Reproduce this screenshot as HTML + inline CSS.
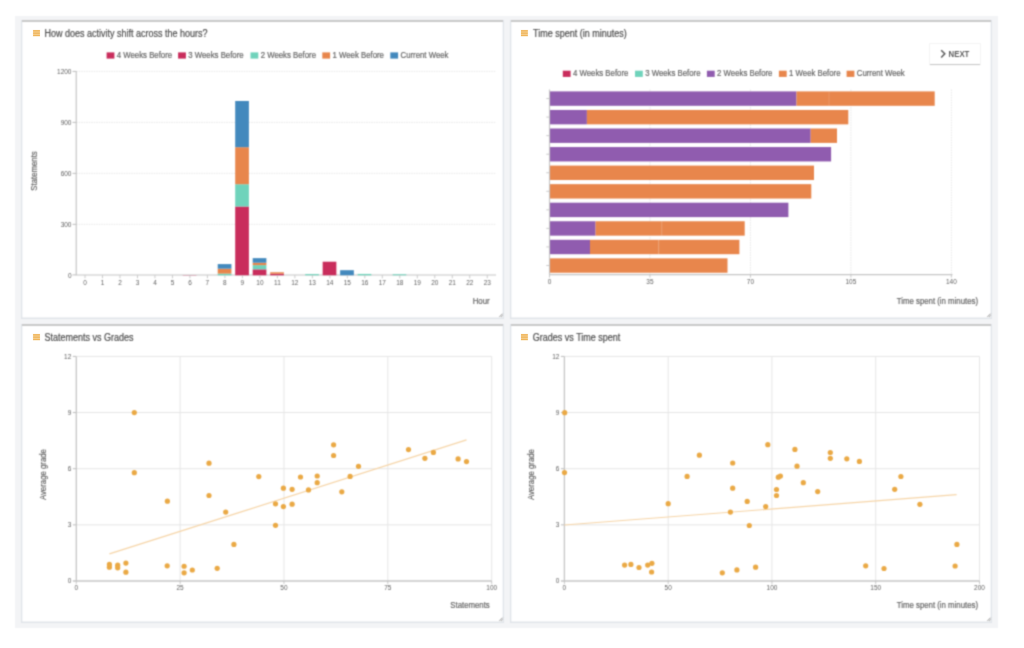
<!DOCTYPE html><html><head><meta charset="utf-8"><style>
html,body{margin:0;padding:0;background:#fff;width:1024px;height:648px;overflow:hidden;}
svg{position:absolute;left:0;top:0;}
text{font-family:"Liberation Sans",sans-serif;stroke-width:0.2px;paint-order:stroke;}
</style></head><body>
<svg width="1024" height="648" viewBox="0 0 1024 648">
<defs><filter id="bl" x="-1%" y="-1%" width="102%" height="102%" color-interpolation-filters="sRGB"><feConvolveMatrix order="3" kernelMatrix="1 3 1 3 9 3 1 3 1" divisor="25" edgeMode="duplicate"/></filter>
<filter id="sh" x="-20%" y="-30%" width="140%" height="170%" color-interpolation-filters="sRGB"><feGaussianBlur in="SourceAlpha" stdDeviation="0.7"/><feOffset dy="1"/><feComponentTransfer><feFuncA type="linear" slope="0.32"/></feComponentTransfer><feMerge><feMergeNode/><feMergeNode in="SourceGraphic"/></feMerge></filter></defs>
<g filter="url(#bl)">
<rect x="0.00" y="0.00" width="1024.00" height="648.00" fill="#fff" />
<rect x="15.00" y="16.00" width="983.00" height="612.00" fill="#f3f4f6" />
<rect x="21.00" y="20.00" width="483.00" height="299.00" fill="#e0e4e9" />
<rect x="22.30" y="22.00" width="480.40" height="295.50" fill="#fff" />
<rect x="22.00" y="20.00" width="481.00" height="2.00" fill="#c9c9c9" />
<rect x="510.00" y="20.00" width="482.00" height="299.00" fill="#e0e4e9" />
<rect x="511.30" y="22.00" width="479.40" height="295.50" fill="#fff" />
<rect x="511.00" y="20.00" width="480.00" height="2.00" fill="#c9c9c9" />
<rect x="21.00" y="324.00" width="483.00" height="299.00" fill="#e0e4e9" />
<rect x="22.30" y="326.00" width="480.40" height="295.50" fill="#fff" />
<rect x="22.00" y="324.00" width="481.00" height="2.00" fill="#c9c9c9" />
<rect x="510.00" y="324.00" width="482.00" height="299.00" fill="#e0e4e9" />
<rect x="511.30" y="326.00" width="479.40" height="295.50" fill="#fff" />
<rect x="511.00" y="324.00" width="480.00" height="2.00" fill="#c9c9c9" />
<rect x="929.30" y="43.30" width="51.40" height="21.90" fill="rgba(0,0,0,0.07)" />
<rect x="930.00" y="44.60" width="50.00" height="20.20" fill="rgba(0,0,0,0.20)" />
<rect x="930.00" y="44.00" width="50.00" height="20.00" fill="#fff" />
<text x="44.50" y="36.60" font-size="10.44" textLength="163.07" lengthAdjust="spacingAndGlyphs" text-anchor="start" fill="#4d4d4d" stroke="#4d4d4d" >How does activity shift across the hours?</text>
<text x="533.00" y="36.60" font-size="10.44" textLength="93.70" lengthAdjust="spacingAndGlyphs" text-anchor="start" fill="#4d4d4d" stroke="#4d4d4d" >Time spent (in minutes)</text>
<text x="44.50" y="340.60" font-size="10.44" textLength="89.04" lengthAdjust="spacingAndGlyphs" text-anchor="start" fill="#4d4d4d" stroke="#4d4d4d" >Statements vs Grades</text>
<text x="532.80" y="340.60" font-size="10.44" textLength="87.53" lengthAdjust="spacingAndGlyphs" text-anchor="start" fill="#4d4d4d" stroke="#4d4d4d" >Grades vs Time spent</text>
<path d="M941.2 50.2 L944.8 53.8 L941.2 57.4" fill="none" stroke="#555" stroke-width="1.4"/>
<text x="948.60" y="56.60" font-size="8.58" textLength="20.80" lengthAdjust="spacingAndGlyphs" text-anchor="start" fill="#5c5c5c" stroke="#5c5c5c" font-weight="bold" style="stroke-width:0">NEXT</text>
<rect x="106.60" y="52.40" width="7.80" height="6.20" fill="#c92d5c" />
<text x="116.80" y="57.90" font-size="8.58" textLength="55.35" lengthAdjust="spacingAndGlyphs" text-anchor="start" fill="#666" stroke="#666" >4 Weeks Before</text>
<rect x="178.10" y="52.40" width="7.80" height="6.20" fill="#c92d5c" />
<text x="188.30" y="57.90" font-size="8.58" textLength="55.35" lengthAdjust="spacingAndGlyphs" text-anchor="start" fill="#666" stroke="#666" >3 Weeks Before</text>
<rect x="250.50" y="52.40" width="7.80" height="6.20" fill="#6fd3bb" />
<text x="260.70" y="57.90" font-size="8.58" textLength="55.35" lengthAdjust="spacingAndGlyphs" text-anchor="start" fill="#666" stroke="#666" >2 Weeks Before</text>
<rect x="322.30" y="52.40" width="7.80" height="6.20" fill="#e8864c" />
<text x="332.50" y="57.90" font-size="8.58" textLength="51.45" lengthAdjust="spacingAndGlyphs" text-anchor="start" fill="#666" stroke="#666" >1 Week Before</text>
<rect x="390.30" y="52.40" width="7.80" height="6.20" fill="#4389bd" />
<text x="400.50" y="57.90" font-size="8.58" textLength="47.97" lengthAdjust="spacingAndGlyphs" text-anchor="start" fill="#666" stroke="#666" >Current Week</text>
<line x1="76.25" y1="224.33" x2="496.00" y2="224.33" stroke="#e2e2e2" stroke-width="0.8" stroke-dasharray="1.5,1"/>
<line x1="72.50" y1="224.33" x2="76.25" y2="224.33" stroke="#bdbdbd" stroke-width="1" />
<text x="71.50" y="226.63" font-size="7.15" textLength="10.85" lengthAdjust="spacingAndGlyphs" text-anchor="end" fill="#626262" stroke="#626262" style="stroke-width:0">300</text>
<line x1="76.25" y1="173.36" x2="496.00" y2="173.36" stroke="#e2e2e2" stroke-width="0.8" stroke-dasharray="1.5,1"/>
<line x1="72.50" y1="173.36" x2="76.25" y2="173.36" stroke="#bdbdbd" stroke-width="1" />
<text x="71.50" y="175.66" font-size="7.15" textLength="10.85" lengthAdjust="spacingAndGlyphs" text-anchor="end" fill="#626262" stroke="#626262" style="stroke-width:0">600</text>
<line x1="76.25" y1="122.39" x2="496.00" y2="122.39" stroke="#e2e2e2" stroke-width="0.8" stroke-dasharray="1.5,1"/>
<line x1="72.50" y1="122.39" x2="76.25" y2="122.39" stroke="#bdbdbd" stroke-width="1" />
<text x="71.50" y="124.69" font-size="7.15" textLength="10.85" lengthAdjust="spacingAndGlyphs" text-anchor="end" fill="#626262" stroke="#626262" style="stroke-width:0">900</text>
<line x1="76.25" y1="71.42" x2="496.00" y2="71.42" stroke="#e2e2e2" stroke-width="0.8" stroke-dasharray="1.5,1"/>
<line x1="72.50" y1="71.42" x2="76.25" y2="71.42" stroke="#bdbdbd" stroke-width="1" />
<text x="71.50" y="73.72" font-size="7.15" textLength="14.46" lengthAdjust="spacingAndGlyphs" text-anchor="end" fill="#626262" stroke="#626262" style="stroke-width:0">1200</text>
<text x="71.50" y="277.60" font-size="7.15" textLength="3.62" lengthAdjust="spacingAndGlyphs" text-anchor="end" fill="#626262" stroke="#626262" style="stroke-width:0">0</text>
<line x1="72.50" y1="274.90" x2="76.25" y2="274.90" stroke="#bdbdbd" stroke-width="1" />
<line x1="76.25" y1="71.00" x2="76.25" y2="275.30" stroke="#c6c6c6" stroke-width="1.2" />
<line x1="76.25" y1="275.00" x2="496.00" y2="275.00" stroke="#c6c6c6" stroke-width="1.2" />
<rect x="182.74" y="275.05" width="13.70" height="0.25" fill="#c92d5c" />
<rect x="217.72" y="273.60" width="13.70" height="1.70" fill="#6fd3bb" />
<rect x="217.72" y="268.67" width="13.70" height="4.93" fill="#e8864c" />
<rect x="217.72" y="264.09" width="13.70" height="4.59" fill="#4389bd" />
<rect x="235.20" y="206.49" width="13.70" height="68.81" fill="#c92d5c" />
<rect x="235.20" y="184.23" width="13.70" height="22.26" fill="#6fd3bb" />
<rect x="235.20" y="147.20" width="13.70" height="37.04" fill="#e8864c" />
<rect x="235.20" y="100.98" width="13.70" height="46.21" fill="#4389bd" />
<rect x="252.69" y="269.35" width="13.70" height="5.95" fill="#c92d5c" />
<rect x="252.69" y="265.11" width="13.70" height="4.25" fill="#6fd3bb" />
<rect x="252.69" y="262.73" width="13.70" height="2.38" fill="#e8864c" />
<rect x="252.69" y="258.14" width="13.70" height="4.59" fill="#4389bd" />
<rect x="270.19" y="273.77" width="13.70" height="1.53" fill="#c92d5c" />
<rect x="270.19" y="272.24" width="13.70" height="1.53" fill="#e8864c" />
<rect x="305.17" y="274.11" width="13.70" height="1.19" fill="#6fd3bb" />
<rect x="322.66" y="261.71" width="13.70" height="13.59" fill="#c92d5c" />
<rect x="340.14" y="270.20" width="13.70" height="5.10" fill="#4389bd" />
<rect x="357.63" y="273.94" width="13.70" height="1.36" fill="#6fd3bb" />
<rect x="392.62" y="274.28" width="13.70" height="1.02" fill="#6fd3bb" />
<line x1="85.00" y1="275.30" x2="85.00" y2="278.30" stroke="#bdbdbd" stroke-width="0.8" />
<text x="85.00" y="284.90" font-size="7.15" textLength="3.62" lengthAdjust="spacingAndGlyphs" text-anchor="middle" fill="#626262" stroke="#626262" style="stroke-width:0">0</text>
<line x1="102.48" y1="275.30" x2="102.48" y2="278.30" stroke="#bdbdbd" stroke-width="0.8" />
<text x="102.48" y="284.90" font-size="7.15" textLength="3.62" lengthAdjust="spacingAndGlyphs" text-anchor="middle" fill="#626262" stroke="#626262" style="stroke-width:0">1</text>
<line x1="119.97" y1="275.30" x2="119.97" y2="278.30" stroke="#bdbdbd" stroke-width="0.8" />
<text x="119.97" y="284.90" font-size="7.15" textLength="3.62" lengthAdjust="spacingAndGlyphs" text-anchor="middle" fill="#626262" stroke="#626262" style="stroke-width:0">2</text>
<line x1="137.47" y1="275.30" x2="137.47" y2="278.30" stroke="#bdbdbd" stroke-width="0.8" />
<text x="137.47" y="284.90" font-size="7.15" textLength="3.62" lengthAdjust="spacingAndGlyphs" text-anchor="middle" fill="#626262" stroke="#626262" style="stroke-width:0">3</text>
<line x1="154.95" y1="275.30" x2="154.95" y2="278.30" stroke="#bdbdbd" stroke-width="0.8" />
<text x="154.95" y="284.90" font-size="7.15" textLength="3.62" lengthAdjust="spacingAndGlyphs" text-anchor="middle" fill="#626262" stroke="#626262" style="stroke-width:0">4</text>
<line x1="172.44" y1="275.30" x2="172.44" y2="278.30" stroke="#bdbdbd" stroke-width="0.8" />
<text x="172.44" y="284.90" font-size="7.15" textLength="3.62" lengthAdjust="spacingAndGlyphs" text-anchor="middle" fill="#626262" stroke="#626262" style="stroke-width:0">5</text>
<line x1="189.94" y1="275.30" x2="189.94" y2="278.30" stroke="#bdbdbd" stroke-width="0.8" />
<text x="189.94" y="284.90" font-size="7.15" textLength="3.62" lengthAdjust="spacingAndGlyphs" text-anchor="middle" fill="#626262" stroke="#626262" style="stroke-width:0">6</text>
<line x1="207.42" y1="275.30" x2="207.42" y2="278.30" stroke="#bdbdbd" stroke-width="0.8" />
<text x="207.42" y="284.90" font-size="7.15" textLength="3.62" lengthAdjust="spacingAndGlyphs" text-anchor="middle" fill="#626262" stroke="#626262" style="stroke-width:0">7</text>
<line x1="224.91" y1="275.30" x2="224.91" y2="278.30" stroke="#bdbdbd" stroke-width="0.8" />
<text x="224.91" y="284.90" font-size="7.15" textLength="3.62" lengthAdjust="spacingAndGlyphs" text-anchor="middle" fill="#626262" stroke="#626262" style="stroke-width:0">8</text>
<line x1="242.40" y1="275.30" x2="242.40" y2="278.30" stroke="#bdbdbd" stroke-width="0.8" />
<text x="242.40" y="284.90" font-size="7.15" textLength="3.62" lengthAdjust="spacingAndGlyphs" text-anchor="middle" fill="#626262" stroke="#626262" style="stroke-width:0">9</text>
<line x1="259.89" y1="275.30" x2="259.89" y2="278.30" stroke="#bdbdbd" stroke-width="0.8" />
<text x="259.89" y="284.90" font-size="7.15" textLength="7.23" lengthAdjust="spacingAndGlyphs" text-anchor="middle" fill="#626262" stroke="#626262" style="stroke-width:0">10</text>
<line x1="277.38" y1="275.30" x2="277.38" y2="278.30" stroke="#bdbdbd" stroke-width="0.8" />
<text x="277.38" y="284.90" font-size="7.15" textLength="6.75" lengthAdjust="spacingAndGlyphs" text-anchor="middle" fill="#626262" stroke="#626262" style="stroke-width:0">11</text>
<line x1="294.88" y1="275.30" x2="294.88" y2="278.30" stroke="#bdbdbd" stroke-width="0.8" />
<text x="294.88" y="284.90" font-size="7.15" textLength="7.23" lengthAdjust="spacingAndGlyphs" text-anchor="middle" fill="#626262" stroke="#626262" style="stroke-width:0">12</text>
<line x1="312.37" y1="275.30" x2="312.37" y2="278.30" stroke="#bdbdbd" stroke-width="0.8" />
<text x="312.37" y="284.90" font-size="7.15" textLength="7.23" lengthAdjust="spacingAndGlyphs" text-anchor="middle" fill="#626262" stroke="#626262" style="stroke-width:0">13</text>
<line x1="329.86" y1="275.30" x2="329.86" y2="278.30" stroke="#bdbdbd" stroke-width="0.8" />
<text x="329.86" y="284.90" font-size="7.15" textLength="7.23" lengthAdjust="spacingAndGlyphs" text-anchor="middle" fill="#626262" stroke="#626262" style="stroke-width:0">14</text>
<line x1="347.34" y1="275.30" x2="347.34" y2="278.30" stroke="#bdbdbd" stroke-width="0.8" />
<text x="347.34" y="284.90" font-size="7.15" textLength="7.23" lengthAdjust="spacingAndGlyphs" text-anchor="middle" fill="#626262" stroke="#626262" style="stroke-width:0">15</text>
<line x1="364.83" y1="275.30" x2="364.83" y2="278.30" stroke="#bdbdbd" stroke-width="0.8" />
<text x="364.83" y="284.90" font-size="7.15" textLength="7.23" lengthAdjust="spacingAndGlyphs" text-anchor="middle" fill="#626262" stroke="#626262" style="stroke-width:0">16</text>
<line x1="382.32" y1="275.30" x2="382.32" y2="278.30" stroke="#bdbdbd" stroke-width="0.8" />
<text x="382.32" y="284.90" font-size="7.15" textLength="7.23" lengthAdjust="spacingAndGlyphs" text-anchor="middle" fill="#626262" stroke="#626262" style="stroke-width:0">17</text>
<line x1="399.81" y1="275.30" x2="399.81" y2="278.30" stroke="#bdbdbd" stroke-width="0.8" />
<text x="399.81" y="284.90" font-size="7.15" textLength="7.23" lengthAdjust="spacingAndGlyphs" text-anchor="middle" fill="#626262" stroke="#626262" style="stroke-width:0">18</text>
<line x1="417.30" y1="275.30" x2="417.30" y2="278.30" stroke="#bdbdbd" stroke-width="0.8" />
<text x="417.30" y="284.90" font-size="7.15" textLength="7.23" lengthAdjust="spacingAndGlyphs" text-anchor="middle" fill="#626262" stroke="#626262" style="stroke-width:0">19</text>
<line x1="434.79" y1="275.30" x2="434.79" y2="278.30" stroke="#bdbdbd" stroke-width="0.8" />
<text x="434.79" y="284.90" font-size="7.15" textLength="7.23" lengthAdjust="spacingAndGlyphs" text-anchor="middle" fill="#626262" stroke="#626262" style="stroke-width:0">20</text>
<line x1="452.28" y1="275.30" x2="452.28" y2="278.30" stroke="#bdbdbd" stroke-width="0.8" />
<text x="452.28" y="284.90" font-size="7.15" textLength="7.23" lengthAdjust="spacingAndGlyphs" text-anchor="middle" fill="#626262" stroke="#626262" style="stroke-width:0">21</text>
<line x1="469.77" y1="275.30" x2="469.77" y2="278.30" stroke="#bdbdbd" stroke-width="0.8" />
<text x="469.77" y="284.90" font-size="7.15" textLength="7.23" lengthAdjust="spacingAndGlyphs" text-anchor="middle" fill="#626262" stroke="#626262" style="stroke-width:0">22</text>
<line x1="487.26" y1="275.30" x2="487.26" y2="278.30" stroke="#bdbdbd" stroke-width="0.8" />
<text x="487.26" y="284.90" font-size="7.15" textLength="7.23" lengthAdjust="spacingAndGlyphs" text-anchor="middle" fill="#626262" stroke="#626262" style="stroke-width:0">23</text>
<text x="481.20" y="303.80" font-size="8.58" textLength="16.91" lengthAdjust="spacingAndGlyphs" text-anchor="middle" fill="#666" stroke="#666" >Hour</text>
<text x="0.00" y="0.00" font-size="8.58" textLength="39.45" lengthAdjust="spacingAndGlyphs" text-anchor="middle" fill="#666" stroke="#666" transform="translate(37.1 171) rotate(-90)">Statements</text>
<rect x="562.80" y="70.70" width="7.80" height="6.20" fill="#c92d5c" />
<text x="573.00" y="76.20" font-size="8.58" textLength="55.35" lengthAdjust="spacingAndGlyphs" text-anchor="start" fill="#666" stroke="#666" >4 Weeks Before</text>
<rect x="635.00" y="70.70" width="7.80" height="6.20" fill="#6fd3bb" />
<text x="645.20" y="76.20" font-size="8.58" textLength="55.35" lengthAdjust="spacingAndGlyphs" text-anchor="start" fill="#666" stroke="#666" >3 Weeks Before</text>
<rect x="706.90" y="70.70" width="7.80" height="6.20" fill="#905caf" />
<text x="717.10" y="76.20" font-size="8.58" textLength="55.35" lengthAdjust="spacingAndGlyphs" text-anchor="start" fill="#666" stroke="#666" >2 Weeks Before</text>
<rect x="778.90" y="70.70" width="7.80" height="6.20" fill="#e8864c" />
<text x="789.10" y="76.20" font-size="8.58" textLength="51.45" lengthAdjust="spacingAndGlyphs" text-anchor="start" fill="#666" stroke="#666" >1 Week Before</text>
<rect x="846.60" y="70.70" width="7.80" height="6.20" fill="#e8864c" />
<text x="856.80" y="76.20" font-size="8.58" textLength="47.97" lengthAdjust="spacingAndGlyphs" text-anchor="start" fill="#666" stroke="#666" >Current Week</text>
<line x1="649.97" y1="89.50" x2="649.97" y2="274.60" stroke="#e2e2e2" stroke-width="0.8" stroke-dasharray="1.5,1"/>
<line x1="750.44" y1="89.50" x2="750.44" y2="274.60" stroke="#e2e2e2" stroke-width="0.8" stroke-dasharray="1.5,1"/>
<line x1="850.91" y1="89.50" x2="850.91" y2="274.60" stroke="#e2e2e2" stroke-width="0.8" stroke-dasharray="1.5,1"/>
<line x1="951.38" y1="89.50" x2="951.38" y2="274.60" stroke="#e2e2e2" stroke-width="0.8" stroke-dasharray="1.5,1"/>
<rect x="549.50" y="91.40" width="247.00" height="14.40" fill="#905caf" />
<rect x="796.50" y="91.40" width="32.50" height="14.40" fill="#e8864c" />
<rect x="829.00" y="91.40" width="105.70" height="14.40" fill="#e8864c" />
<line x1="829.00" y1="91.40" x2="829.00" y2="105.80" stroke="rgba(255,255,255,0.22)" stroke-width="0.6" />
<line x1="546.30" y1="98.55" x2="549.50" y2="98.55" stroke="#bdbdbd" stroke-width="0.8" />
<rect x="549.50" y="109.95" width="37.40" height="14.40" fill="#905caf" />
<rect x="586.90" y="109.95" width="261.40" height="14.40" fill="#e8864c" />
<line x1="546.30" y1="117.10" x2="549.50" y2="117.10" stroke="#bdbdbd" stroke-width="0.8" />
<rect x="549.50" y="128.50" width="261.20" height="14.40" fill="#905caf" />
<rect x="810.70" y="128.50" width="26.30" height="14.40" fill="#e8864c" />
<line x1="546.30" y1="135.65" x2="549.50" y2="135.65" stroke="#bdbdbd" stroke-width="0.8" />
<rect x="549.50" y="147.05" width="281.60" height="14.40" fill="#905caf" />
<line x1="546.30" y1="154.20" x2="549.50" y2="154.20" stroke="#bdbdbd" stroke-width="0.8" />
<rect x="549.50" y="165.60" width="264.50" height="14.40" fill="#e8864c" />
<line x1="546.30" y1="172.75" x2="549.50" y2="172.75" stroke="#bdbdbd" stroke-width="0.8" />
<rect x="549.50" y="184.15" width="261.80" height="14.40" fill="#e8864c" />
<line x1="546.30" y1="191.30" x2="549.50" y2="191.30" stroke="#bdbdbd" stroke-width="0.8" />
<rect x="549.50" y="202.70" width="238.90" height="14.40" fill="#905caf" />
<line x1="546.30" y1="209.85" x2="549.50" y2="209.85" stroke="#bdbdbd" stroke-width="0.8" />
<rect x="549.50" y="221.25" width="46.10" height="14.40" fill="#905caf" />
<rect x="595.60" y="221.25" width="66.30" height="14.40" fill="#e8864c" />
<rect x="661.90" y="221.25" width="82.80" height="14.40" fill="#e8864c" />
<line x1="661.90" y1="221.25" x2="661.90" y2="235.65" stroke="rgba(255,255,255,0.22)" stroke-width="0.6" />
<line x1="546.30" y1="228.40" x2="549.50" y2="228.40" stroke="#bdbdbd" stroke-width="0.8" />
<rect x="549.50" y="239.80" width="40.50" height="14.40" fill="#905caf" />
<rect x="590.00" y="239.80" width="68.80" height="14.40" fill="#e8864c" />
<rect x="658.80" y="239.80" width="80.60" height="14.40" fill="#e8864c" />
<line x1="658.80" y1="239.80" x2="658.80" y2="254.20" stroke="rgba(255,255,255,0.22)" stroke-width="0.6" />
<line x1="546.30" y1="246.95" x2="549.50" y2="246.95" stroke="#bdbdbd" stroke-width="0.8" />
<rect x="549.50" y="258.35" width="178.00" height="14.40" fill="#e8864c" />
<line x1="546.30" y1="265.50" x2="549.50" y2="265.50" stroke="#bdbdbd" stroke-width="0.8" />
<line x1="549.50" y1="89.50" x2="549.50" y2="274.60" stroke="#c6c6c6" stroke-width="1.2" />
<line x1="549.50" y1="274.60" x2="952.50" y2="274.60" stroke="#c6c6c6" stroke-width="1.2" />
<line x1="549.50" y1="274.60" x2="549.50" y2="277.60" stroke="#bdbdbd" stroke-width="0.8" />
<text x="549.50" y="283.80" font-size="7.15" textLength="3.62" lengthAdjust="spacingAndGlyphs" text-anchor="middle" fill="#626262" stroke="#626262" style="stroke-width:0">0</text>
<line x1="649.97" y1="274.60" x2="649.97" y2="277.60" stroke="#bdbdbd" stroke-width="0.8" />
<text x="649.97" y="283.80" font-size="7.15" textLength="7.23" lengthAdjust="spacingAndGlyphs" text-anchor="middle" fill="#626262" stroke="#626262" style="stroke-width:0">35</text>
<line x1="750.44" y1="274.60" x2="750.44" y2="277.60" stroke="#bdbdbd" stroke-width="0.8" />
<text x="750.44" y="283.80" font-size="7.15" textLength="7.23" lengthAdjust="spacingAndGlyphs" text-anchor="middle" fill="#626262" stroke="#626262" style="stroke-width:0">70</text>
<line x1="850.91" y1="274.60" x2="850.91" y2="277.60" stroke="#bdbdbd" stroke-width="0.8" />
<text x="850.91" y="283.80" font-size="7.15" textLength="10.85" lengthAdjust="spacingAndGlyphs" text-anchor="middle" fill="#626262" stroke="#626262" style="stroke-width:0">105</text>
<line x1="951.38" y1="274.60" x2="951.38" y2="277.60" stroke="#bdbdbd" stroke-width="0.8" />
<text x="951.38" y="283.80" font-size="7.15" textLength="10.85" lengthAdjust="spacingAndGlyphs" text-anchor="middle" fill="#626262" stroke="#626262" style="stroke-width:0">140</text>
<text x="937.40" y="303.60" font-size="8.58" textLength="81.20" lengthAdjust="spacingAndGlyphs" text-anchor="middle" fill="#666" stroke="#666" >Time spent (in minutes)</text>
<line x1="76.30" y1="524.85" x2="491.70" y2="524.85" stroke="#e6e6e6" stroke-width="1" />
<line x1="72.80" y1="524.85" x2="76.30" y2="524.85" stroke="#bdbdbd" stroke-width="1" />
<text x="71.30" y="527.15" font-size="7.15" textLength="3.62" lengthAdjust="spacingAndGlyphs" text-anchor="end" fill="#626262" stroke="#626262" style="stroke-width:0">3</text>
<line x1="76.30" y1="468.70" x2="491.70" y2="468.70" stroke="#e6e6e6" stroke-width="1" />
<line x1="72.80" y1="468.70" x2="76.30" y2="468.70" stroke="#bdbdbd" stroke-width="1" />
<text x="71.30" y="471.00" font-size="7.15" textLength="3.62" lengthAdjust="spacingAndGlyphs" text-anchor="end" fill="#626262" stroke="#626262" style="stroke-width:0">6</text>
<line x1="76.30" y1="412.55" x2="491.70" y2="412.55" stroke="#e6e6e6" stroke-width="1" />
<line x1="72.80" y1="412.55" x2="76.30" y2="412.55" stroke="#bdbdbd" stroke-width="1" />
<text x="71.30" y="414.85" font-size="7.15" textLength="3.62" lengthAdjust="spacingAndGlyphs" text-anchor="end" fill="#626262" stroke="#626262" style="stroke-width:0">9</text>
<line x1="76.30" y1="356.40" x2="491.70" y2="356.40" stroke="#e6e6e6" stroke-width="1" />
<line x1="72.80" y1="356.40" x2="76.30" y2="356.40" stroke="#bdbdbd" stroke-width="1" />
<text x="71.30" y="358.70" font-size="7.15" textLength="7.23" lengthAdjust="spacingAndGlyphs" text-anchor="end" fill="#626262" stroke="#626262" style="stroke-width:0">12</text>
<text x="71.30" y="583.30" font-size="7.15" textLength="3.62" lengthAdjust="spacingAndGlyphs" text-anchor="end" fill="#626262" stroke="#626262" style="stroke-width:0">0</text>
<line x1="180.11" y1="356.40" x2="180.11" y2="581.00" stroke="#e6e6e6" stroke-width="1" />
<line x1="283.98" y1="356.40" x2="283.98" y2="581.00" stroke="#e6e6e6" stroke-width="1" />
<line x1="387.84" y1="356.40" x2="387.84" y2="581.00" stroke="#e6e6e6" stroke-width="1" />
<line x1="491.70" y1="356.40" x2="491.70" y2="581.00" stroke="#e6e6e6" stroke-width="1" />
<line x1="76.30" y1="356.40" x2="76.30" y2="581.00" stroke="#c6c6c6" stroke-width="1.3" />
<line x1="72.80" y1="581.00" x2="491.70" y2="581.00" stroke="#c6c6c6" stroke-width="1.3" />
<line x1="76.25" y1="581.00" x2="76.25" y2="584.00" stroke="#bdbdbd" stroke-width="0.8" />
<text x="76.25" y="590.30" font-size="7.15" textLength="3.62" lengthAdjust="spacingAndGlyphs" text-anchor="middle" fill="#626262" stroke="#626262" style="stroke-width:0">0</text>
<line x1="180.11" y1="581.00" x2="180.11" y2="584.00" stroke="#bdbdbd" stroke-width="0.8" />
<text x="180.11" y="590.30" font-size="7.15" textLength="7.23" lengthAdjust="spacingAndGlyphs" text-anchor="middle" fill="#626262" stroke="#626262" style="stroke-width:0">25</text>
<line x1="283.98" y1="581.00" x2="283.98" y2="584.00" stroke="#bdbdbd" stroke-width="0.8" />
<text x="283.98" y="590.30" font-size="7.15" textLength="7.23" lengthAdjust="spacingAndGlyphs" text-anchor="middle" fill="#626262" stroke="#626262" style="stroke-width:0">50</text>
<line x1="387.84" y1="581.00" x2="387.84" y2="584.00" stroke="#bdbdbd" stroke-width="0.8" />
<text x="387.84" y="590.30" font-size="7.15" textLength="7.23" lengthAdjust="spacingAndGlyphs" text-anchor="middle" fill="#626262" stroke="#626262" style="stroke-width:0">75</text>
<line x1="491.70" y1="581.00" x2="491.70" y2="584.00" stroke="#bdbdbd" stroke-width="0.8" />
<text x="491.70" y="590.30" font-size="7.15" textLength="10.85" lengthAdjust="spacingAndGlyphs" text-anchor="middle" fill="#626262" stroke="#626262" style="stroke-width:0">100</text>
<line x1="109.40" y1="553.90" x2="466.50" y2="439.90" stroke="#f6d5a8" stroke-width="1.2" />
<circle cx="134.30" cy="412.60" r="2.6" fill="#eaa945"/>
<circle cx="134.30" cy="472.70" r="2.6" fill="#eaa945"/>
<circle cx="167.40" cy="501.20" r="2.6" fill="#eaa945"/>
<circle cx="209.00" cy="463.20" r="2.6" fill="#eaa945"/>
<circle cx="209.00" cy="495.50" r="2.6" fill="#eaa945"/>
<circle cx="258.80" cy="476.60" r="2.6" fill="#eaa945"/>
<circle cx="225.70" cy="512.10" r="2.6" fill="#eaa945"/>
<circle cx="275.50" cy="503.80" r="2.6" fill="#eaa945"/>
<circle cx="275.50" cy="525.30" r="2.6" fill="#eaa945"/>
<circle cx="283.40" cy="488.20" r="2.6" fill="#eaa945"/>
<circle cx="283.40" cy="506.60" r="2.6" fill="#eaa945"/>
<circle cx="292.10" cy="489.30" r="2.6" fill="#eaa945"/>
<circle cx="292.10" cy="504.20" r="2.6" fill="#eaa945"/>
<circle cx="300.50" cy="477.00" r="2.6" fill="#eaa945"/>
<circle cx="308.50" cy="489.90" r="2.6" fill="#eaa945"/>
<circle cx="317.20" cy="476.00" r="2.6" fill="#eaa945"/>
<circle cx="317.20" cy="482.70" r="2.6" fill="#eaa945"/>
<circle cx="333.60" cy="444.80" r="2.6" fill="#eaa945"/>
<circle cx="333.60" cy="455.50" r="2.6" fill="#eaa945"/>
<circle cx="341.80" cy="491.80" r="2.6" fill="#eaa945"/>
<circle cx="350.10" cy="476.40" r="2.6" fill="#eaa945"/>
<circle cx="358.50" cy="466.30" r="2.6" fill="#eaa945"/>
<circle cx="408.50" cy="449.60" r="2.6" fill="#eaa945"/>
<circle cx="424.90" cy="458.30" r="2.6" fill="#eaa945"/>
<circle cx="433.40" cy="452.40" r="2.6" fill="#eaa945"/>
<circle cx="458.10" cy="458.90" r="2.6" fill="#eaa945"/>
<circle cx="466.50" cy="461.60" r="2.6" fill="#eaa945"/>
<circle cx="109.40" cy="564.40" r="2.6" fill="#eaa945"/>
<circle cx="109.40" cy="567.20" r="2.6" fill="#eaa945"/>
<circle cx="117.70" cy="565.20" r="2.6" fill="#eaa945"/>
<circle cx="117.70" cy="567.80" r="2.6" fill="#eaa945"/>
<circle cx="125.90" cy="563.10" r="2.6" fill="#eaa945"/>
<circle cx="125.90" cy="572.20" r="2.6" fill="#eaa945"/>
<circle cx="167.20" cy="565.80" r="2.6" fill="#eaa945"/>
<circle cx="184.10" cy="566.25" r="2.6" fill="#eaa945"/>
<circle cx="184.10" cy="572.80" r="2.6" fill="#eaa945"/>
<circle cx="192.30" cy="570.00" r="2.6" fill="#eaa945"/>
<circle cx="217.20" cy="568.30" r="2.6" fill="#eaa945"/>
<circle cx="233.90" cy="544.40" r="2.6" fill="#eaa945"/>
<text x="470.00" y="607.60" font-size="8.58" textLength="39.45" lengthAdjust="spacingAndGlyphs" text-anchor="middle" fill="#666" stroke="#666" >Statements</text>
<text x="0.00" y="0.00" font-size="8.58" textLength="51.03" lengthAdjust="spacingAndGlyphs" text-anchor="middle" fill="#666" stroke="#666" transform="translate(45.70 474.6) rotate(-90)">Average grade</text>
<line x1="564.40" y1="524.85" x2="979.50" y2="524.85" stroke="#e6e6e6" stroke-width="1" />
<line x1="560.90" y1="524.85" x2="564.40" y2="524.85" stroke="#bdbdbd" stroke-width="1" />
<text x="559.40" y="527.15" font-size="7.15" textLength="3.62" lengthAdjust="spacingAndGlyphs" text-anchor="end" fill="#626262" stroke="#626262" style="stroke-width:0">3</text>
<line x1="564.40" y1="468.70" x2="979.50" y2="468.70" stroke="#e6e6e6" stroke-width="1" />
<line x1="560.90" y1="468.70" x2="564.40" y2="468.70" stroke="#bdbdbd" stroke-width="1" />
<text x="559.40" y="471.00" font-size="7.15" textLength="3.62" lengthAdjust="spacingAndGlyphs" text-anchor="end" fill="#626262" stroke="#626262" style="stroke-width:0">6</text>
<line x1="564.40" y1="412.55" x2="979.50" y2="412.55" stroke="#e6e6e6" stroke-width="1" />
<line x1="560.90" y1="412.55" x2="564.40" y2="412.55" stroke="#bdbdbd" stroke-width="1" />
<text x="559.40" y="414.85" font-size="7.15" textLength="3.62" lengthAdjust="spacingAndGlyphs" text-anchor="end" fill="#626262" stroke="#626262" style="stroke-width:0">9</text>
<line x1="564.40" y1="356.40" x2="979.50" y2="356.40" stroke="#e6e6e6" stroke-width="1" />
<line x1="560.90" y1="356.40" x2="564.40" y2="356.40" stroke="#bdbdbd" stroke-width="1" />
<text x="559.40" y="358.70" font-size="7.15" textLength="7.23" lengthAdjust="spacingAndGlyphs" text-anchor="end" fill="#626262" stroke="#626262" style="stroke-width:0">12</text>
<text x="559.40" y="583.30" font-size="7.15" textLength="3.62" lengthAdjust="spacingAndGlyphs" text-anchor="end" fill="#626262" stroke="#626262" style="stroke-width:0">0</text>
<line x1="668.17" y1="356.40" x2="668.17" y2="581.00" stroke="#e6e6e6" stroke-width="1" />
<line x1="771.95" y1="356.40" x2="771.95" y2="581.00" stroke="#e6e6e6" stroke-width="1" />
<line x1="875.72" y1="356.40" x2="875.72" y2="581.00" stroke="#e6e6e6" stroke-width="1" />
<line x1="979.50" y1="356.40" x2="979.50" y2="581.00" stroke="#e6e6e6" stroke-width="1" />
<line x1="564.40" y1="356.40" x2="564.40" y2="581.00" stroke="#c6c6c6" stroke-width="1.3" />
<line x1="560.90" y1="581.00" x2="979.50" y2="581.00" stroke="#c6c6c6" stroke-width="1.3" />
<line x1="564.40" y1="581.00" x2="564.40" y2="584.00" stroke="#bdbdbd" stroke-width="0.8" />
<text x="564.40" y="590.30" font-size="7.15" textLength="3.62" lengthAdjust="spacingAndGlyphs" text-anchor="middle" fill="#626262" stroke="#626262" style="stroke-width:0">0</text>
<line x1="668.17" y1="581.00" x2="668.17" y2="584.00" stroke="#bdbdbd" stroke-width="0.8" />
<text x="668.17" y="590.30" font-size="7.15" textLength="7.23" lengthAdjust="spacingAndGlyphs" text-anchor="middle" fill="#626262" stroke="#626262" style="stroke-width:0">50</text>
<line x1="771.95" y1="581.00" x2="771.95" y2="584.00" stroke="#bdbdbd" stroke-width="0.8" />
<text x="771.95" y="590.30" font-size="7.15" textLength="10.85" lengthAdjust="spacingAndGlyphs" text-anchor="middle" fill="#626262" stroke="#626262" style="stroke-width:0">100</text>
<line x1="875.72" y1="581.00" x2="875.72" y2="584.00" stroke="#bdbdbd" stroke-width="0.8" />
<text x="875.72" y="590.30" font-size="7.15" textLength="10.85" lengthAdjust="spacingAndGlyphs" text-anchor="middle" fill="#626262" stroke="#626262" style="stroke-width:0">150</text>
<line x1="979.50" y1="581.00" x2="979.50" y2="584.00" stroke="#bdbdbd" stroke-width="0.8" />
<text x="979.50" y="590.30" font-size="7.15" textLength="10.85" lengthAdjust="spacingAndGlyphs" text-anchor="middle" fill="#626262" stroke="#626262" style="stroke-width:0">200</text>
<line x1="564.40" y1="525.00" x2="956.60" y2="494.70" stroke="#f6d5a8" stroke-width="1.2" />
<circle cx="564.70" cy="412.70" r="2.6" fill="#eaa945"/>
<circle cx="564.50" cy="472.60" r="2.6" fill="#eaa945"/>
<circle cx="624.60" cy="565.10" r="2.6" fill="#eaa945"/>
<circle cx="630.90" cy="564.40" r="2.6" fill="#eaa945"/>
<circle cx="639.00" cy="567.50" r="2.6" fill="#eaa945"/>
<circle cx="647.70" cy="565.10" r="2.6" fill="#eaa945"/>
<circle cx="651.90" cy="563.30" r="2.6" fill="#eaa945"/>
<circle cx="651.60" cy="572.00" r="2.6" fill="#eaa945"/>
<circle cx="668.20" cy="503.70" r="2.6" fill="#eaa945"/>
<circle cx="687.10" cy="476.40" r="2.6" fill="#eaa945"/>
<circle cx="699.40" cy="455.20" r="2.6" fill="#eaa945"/>
<circle cx="732.70" cy="463.00" r="2.6" fill="#eaa945"/>
<circle cx="732.70" cy="488.20" r="2.6" fill="#eaa945"/>
<circle cx="747.20" cy="501.40" r="2.6" fill="#eaa945"/>
<circle cx="730.40" cy="512.10" r="2.6" fill="#eaa945"/>
<circle cx="749.30" cy="525.50" r="2.6" fill="#eaa945"/>
<circle cx="722.30" cy="572.80" r="2.6" fill="#eaa945"/>
<circle cx="736.90" cy="569.90" r="2.6" fill="#eaa945"/>
<circle cx="755.60" cy="567.20" r="2.6" fill="#eaa945"/>
<circle cx="767.80" cy="444.70" r="2.6" fill="#eaa945"/>
<circle cx="765.70" cy="506.60" r="2.6" fill="#eaa945"/>
<circle cx="776.50" cy="489.50" r="2.6" fill="#eaa945"/>
<circle cx="776.50" cy="495.50" r="2.6" fill="#eaa945"/>
<circle cx="778.30" cy="477.20" r="2.6" fill="#eaa945"/>
<circle cx="780.40" cy="476.10" r="2.6" fill="#eaa945"/>
<circle cx="794.90" cy="449.40" r="2.6" fill="#eaa945"/>
<circle cx="797.00" cy="466.20" r="2.6" fill="#eaa945"/>
<circle cx="803.30" cy="482.70" r="2.6" fill="#eaa945"/>
<circle cx="817.70" cy="491.60" r="2.6" fill="#eaa945"/>
<circle cx="830.30" cy="452.50" r="2.6" fill="#eaa945"/>
<circle cx="830.30" cy="458.30" r="2.6" fill="#eaa945"/>
<circle cx="846.80" cy="458.80" r="2.6" fill="#eaa945"/>
<circle cx="859.40" cy="461.40" r="2.6" fill="#eaa945"/>
<circle cx="865.70" cy="565.80" r="2.6" fill="#eaa945"/>
<circle cx="884.00" cy="568.50" r="2.6" fill="#eaa945"/>
<circle cx="894.70" cy="489.30" r="2.6" fill="#eaa945"/>
<circle cx="900.90" cy="476.50" r="2.6" fill="#eaa945"/>
<circle cx="919.90" cy="504.30" r="2.6" fill="#eaa945"/>
<circle cx="956.90" cy="544.40" r="2.6" fill="#eaa945"/>
<circle cx="955.10" cy="566.00" r="2.6" fill="#eaa945"/>
<text x="937.40" y="607.60" font-size="8.58" textLength="81.20" lengthAdjust="spacingAndGlyphs" text-anchor="middle" fill="#666" stroke="#666" >Time spent (in minutes)</text>
<text x="0.00" y="0.00" font-size="8.58" textLength="51.03" lengthAdjust="spacingAndGlyphs" text-anchor="middle" fill="#666" stroke="#666" transform="translate(533.80 474.6) rotate(-90)">Average grade</text>
<path d="M499.4 316.90000000000003 L502.6 313.7 M501.2 316.90000000000003 L502.6 315.5" stroke="#8a8a8a" stroke-width="0.9"/>
<path d="M987.4 316.90000000000003 L990.6 313.7 M989.2 316.90000000000003 L990.6 315.5" stroke="#8a8a8a" stroke-width="0.9"/>
<path d="M499.4 620.9 L502.6 617.6999999999999 M501.2 620.9 L502.6 619.5" stroke="#8a8a8a" stroke-width="0.9"/>
<path d="M987.4 620.9 L990.6 617.6999999999999 M989.2 620.9 L990.6 619.5" stroke="#8a8a8a" stroke-width="0.9"/>
</g>
<rect x="32.70" y="29.60" width="7.60" height="7.00" fill="rgba(240,185,90,0.12)" />
<rect x="33.10" y="30.00" width="6.80" height="6.20" fill="rgba(240,190,100,0.32)" />
<rect x="33.10" y="30.10" width="6.80" height="1.60" fill="#f0b55b" />
<rect x="33.10" y="32.30" width="6.80" height="1.60" fill="#f0b55b" />
<rect x="33.10" y="34.50" width="6.80" height="1.60" fill="#f0b55b" />
<rect x="520.60" y="29.60" width="7.60" height="7.00" fill="rgba(240,185,90,0.12)" />
<rect x="521.00" y="30.00" width="6.80" height="6.20" fill="rgba(240,190,100,0.32)" />
<rect x="521.00" y="30.10" width="6.80" height="1.60" fill="#f0b55b" />
<rect x="521.00" y="32.30" width="6.80" height="1.60" fill="#f0b55b" />
<rect x="521.00" y="34.50" width="6.80" height="1.60" fill="#f0b55b" />
<rect x="32.70" y="333.60" width="7.60" height="7.00" fill="rgba(240,185,90,0.12)" />
<rect x="33.10" y="334.00" width="6.80" height="6.20" fill="rgba(240,190,100,0.32)" />
<rect x="33.10" y="334.10" width="6.80" height="1.60" fill="#f0b55b" />
<rect x="33.10" y="336.30" width="6.80" height="1.60" fill="#f0b55b" />
<rect x="33.10" y="338.50" width="6.80" height="1.60" fill="#f0b55b" />
<rect x="520.60" y="333.60" width="7.60" height="7.00" fill="rgba(240,185,90,0.12)" />
<rect x="521.00" y="334.00" width="6.80" height="6.20" fill="rgba(240,190,100,0.32)" />
<rect x="521.00" y="334.10" width="6.80" height="1.60" fill="#f0b55b" />
<rect x="521.00" y="336.30" width="6.80" height="1.60" fill="#f0b55b" />
<rect x="521.00" y="338.50" width="6.80" height="1.60" fill="#f0b55b" />
</svg></body></html>
